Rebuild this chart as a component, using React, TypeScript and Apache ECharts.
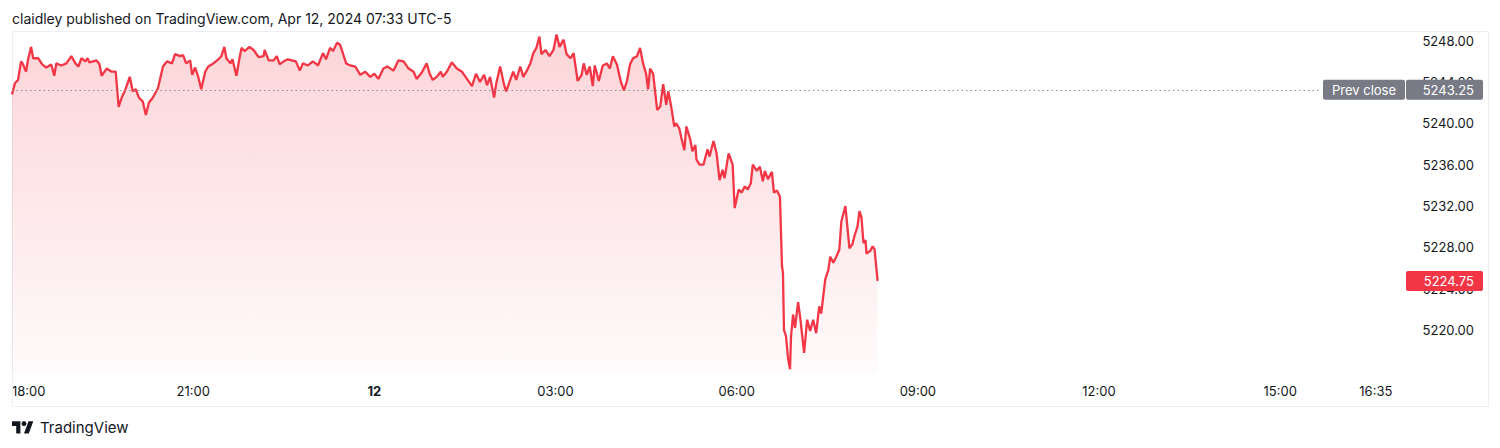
import React, { useEffect, useRef } from "react";
import * as echarts from "echarts";

// minutes after 18:00 (session open)
const minutes = [
  0, 3, 6, 9, 11, 14, 16, 19, 21, 26, 30, 34, 39, 42, 44, 49, 54, 59, 63, 66, 69, 73, 75, 77, 84, 87, 89, 94, 99, 103,
  106, 109, 112, 117, 120, 123, 126, 130, 133, 136, 140, 145, 150, 154, 159, 162, 167, 170, 173, 177, 179, 182, 185, 188,
  192, 195, 200, 205, 208, 211, 213, 217, 219, 223, 226, 228, 231, 236, 240, 245, 250, 251, 255, 260, 263, 266, 270, 274,
  282, 286, 289, 294, 299, 304, 309, 312, 316, 319, 323, 326, 329, 332, 336, 341, 346, 351, 356, 360, 364, 369, 373, 379,
  384, 389, 394, 399, 402, 407, 412, 415, 418, 422, 426, 428, 432, 437, 442, 447, 452, 457, 461, 465, 469, 472, 475, 479,
  481, 485, 489, 491, 495, 498, 501, 505, 508, 511, 515, 518, 521, 524, 526, 530, 534, 538, 541, 544, 548, 551, 555, 558,
  562, 566, 568, 571, 574, 577, 579, 583, 587, 591, 594, 597, 601, 605, 608, 611, 614, 617, 621, 624, 627, 630, 632, 634,
  637, 641, 644, 647, 650, 652, 655, 658, 660, 663, 665, 668, 670, 674, 676, 679, 680, 683, 687, 691, 693, 697, 700, 703,
  706, 708, 712, 716, 718, 722, 725, 728, 731, 734, 736, 740, 743, 746, 748, 751, 755, 757, 760, 763, 765, 766, 767, 769,
  771, 773, 774, 776, 778, 781, 783, 787, 790, 793, 796, 799, 802, 804, 808, 811, 813, 816, 819, 822, 824, 828, 830, 832,
  835, 837, 840, 842, 844, 846, 848, 849, 853, 855, 857, 860,
];

const prices = [
  5242.8, 5243.9, 5244.2, 5246.0, 5245.7, 5245.0, 5246.2, 5247.4, 5246.3, 5246.3, 5245.7, 5245.4, 5245.7, 5244.6, 5245.8,
  5245.6, 5245.8, 5246.5, 5245.8, 5245.5, 5246.3, 5246.0, 5246.3, 5245.9, 5246.1, 5245.7, 5244.6, 5245.3, 5245.0, 5245.0,
  5241.6, 5242.5, 5243.1, 5244.5, 5243.1, 5243.3, 5242.5, 5242.1, 5240.8, 5242.0, 5242.5, 5243.4, 5245.5, 5246.0, 5245.8,
  5246.7, 5246.5, 5246.6, 5245.8, 5246.1, 5244.7, 5245.4, 5244.5, 5243.3, 5245.0, 5245.5, 5245.8, 5246.2, 5246.5, 5247.4,
  5246.3, 5245.8, 5246.2, 5244.6, 5246.3, 5247.3, 5247.0, 5247.4, 5247.1, 5246.4, 5246.5, 5247.1, 5246.1, 5246.1, 5246.5,
  5245.7, 5246.0, 5246.2, 5246.0, 5245.1, 5245.8, 5245.6, 5246.0, 5245.6, 5246.8, 5246.2, 5247.3, 5247.0, 5247.8, 5247.6,
  5246.7, 5245.8, 5245.6, 5245.5, 5244.7, 5245.0, 5244.5, 5244.8, 5244.3, 5245.3, 5245.5, 5245.1, 5246.1, 5246.0, 5245.3,
  5245.0, 5244.3, 5244.9, 5245.8, 5244.8, 5244.2, 5244.5, 5245.0, 5244.5, 5245.0, 5245.9, 5245.3, 5245.0, 5244.3, 5243.6,
  5244.8, 5244.0, 5244.7, 5243.7, 5244.5, 5242.5, 5243.8, 5245.5, 5243.7, 5243.1, 5244.2, 5245.0, 5244.2, 5245.5, 5244.5,
  5245.0, 5245.8, 5246.8, 5247.3, 5248.4, 5246.7, 5247.1, 5246.5, 5247.1, 5248.6, 5247.4, 5248.1, 5246.7, 5246.3, 5246.8,
  5244.1, 5244.7, 5245.8, 5244.7, 5245.5, 5243.6, 5245.6, 5244.1, 5245.6, 5245.8, 5245.3, 5246.5, 5245.7, 5244.0, 5243.2,
  5244.1, 5245.7, 5246.3, 5246.5, 5247.3, 5245.8, 5244.8, 5243.3, 5245.3, 5244.8, 5241.3, 5241.6, 5243.8, 5241.8, 5243.1,
  5241.6, 5239.7, 5240.0, 5239.5, 5238.6, 5237.4, 5239.7, 5238.4, 5237.3, 5237.9, 5236.5, 5236.0, 5236.0, 5237.5, 5236.8,
  5238.3, 5237.1, 5234.5, 5235.5, 5234.7, 5237.1, 5236.0, 5231.8, 5233.6, 5233.3, 5233.9, 5233.6, 5234.2, 5236.0, 5235.4,
  5235.8, 5234.4, 5235.4, 5234.6, 5235.3, 5233.3, 5233.5, 5232.9, 5226.2, 5225.5, 5220.0, 5219.4, 5217.3, 5216.2, 5219.4,
  5221.5, 5220.2, 5222.7, 5221.3, 5217.8, 5221.0, 5219.9, 5221.0, 5219.7, 5222.3, 5221.6, 5224.9, 5225.8, 5227.1, 5226.5,
  5227.1, 5227.8, 5230.5, 5232.0, 5230.0, 5227.9, 5228.3, 5229.1, 5230.0, 5231.5, 5230.9, 5228.4, 5228.7, 5227.4, 5227.7,
  5228.1, 5227.8, 5224.75,
];

const prevClose = 5243.25;
const lastPrice = 5224.75;
const priceTicks = [5220, 5224, 5228, 5232, 5236, 5240, 5244, 5248];
const timeTicks = [0, 180, 360, 540, 720, 900, 1080, 1260, 1355];
const dayLabelMinute = 360;
const dayLabel = "12";
const headerText = "claidley published on TradingView.com, Apr 12, 2024 07:33 UTC-5";
const footerText = "TradingView";

const FONT = "Inter, 'Noto Sans', sans-serif";
const TEXT_COLOR = "#131722";
const RED = "#f23645";
const GRAY = "#787b86";

echarts.graphic.registerShape(
  "tvlogo",
  echarts.graphic.extendPath("M14 22H7V11H0V4h14v18zM28 22h-8l7.5-18h8L28 22z", {})
);

function fmtTime(m: number): string {
  if (m === dayLabelMinute) return "{b|" + dayLabel + "}";
  const total = 18 * 60 + m;
  const h = Math.floor(total / 60) % 24;
  const mm = total % 60;
  return String(h).padStart(2, "0") + ":" + String(mm).padStart(2, "0");
}

export default function App() {
  const ref = useRef<HTMLDivElement>(null);
  useEffect(() => {
    if (!ref.current) return;
    const chart = echarts.init(ref.current, null, { renderer: "svg" });
    const data = minutes.map((m, i) => [m, prices[i]]);
    const gridLeft = 12;
    const gridRight = 95;
    const gridTop = 32;
    const gridBottom = 76;
    chart.setOption({
      animation: false,
      backgroundColor: "#ffffff",
      textStyle: { fontFamily: FONT },
      grid: { left: gridLeft, right: gridRight, top: gridTop, bottom: gridBottom, containLabel: false },
      xAxis: {
        type: "value",
        min: 0,
        max: 1384,
        axisLine: { show: false },
        axisTick: { show: false },
        splitLine: { show: false },
        axisLabel: {
          customValues: timeTicks,
          formatter: (v: number) => fmtTime(v),
          color: TEXT_COLOR,
          fontSize: 13,
          fontFamily: FONT,
          margin: 12,
          alignMinLabel: "left",
          showMinLabel: true,
          showMaxLabel: true,
          hideOverlap: false,
          rich: { b: { fontWeight: "bold", fontSize: 13, color: TEXT_COLOR, fontFamily: FONT } },
        },
      },
      yAxis: {
        type: "value",
        position: "right",
        min: 5215.94,
        max: 5248.84,
        axisLine: { show: false },
        axisTick: { show: false },
        splitLine: { show: false },
        axisLabel: {
          customValues: priceTicks,
          formatter: (v: number) => v.toFixed(2),
          color: TEXT_COLOR,
          fontSize: 13,
          fontFamily: FONT,
          align: "right",
          margin: 69,
          showMinLabel: true,
          showMaxLabel: true,
        },
      },
      series: [
        {
          type: "line",
          data,
          showSymbol: false,
          symbol: "none",
          lineStyle: { color: RED, width: 2.3 },
          areaStyle: {
            color: new echarts.graphic.LinearGradient(0, 0, 0, 1, [
              { offset: 0, color: "rgba(242,54,69,0.3)" },
              { offset: 1, color: "rgba(242,54,69,0.03)" },
            ]),
          },
          markLine: {
            silent: true,
            symbol: ["none", "none"],
            label: { show: false },
            lineStyle: { type: [1.5, 3], color: "#8a8d96", width: 1 },
            data: [[{ coord: [0, prevClose] }, { coord: [1299, prevClose] }]],
          },
        },
      ],
    });

    const pyPrev = chart.convertToPixel({ yAxisIndex: 0 }, prevClose) as number;
    const pyLast = chart.convertToPixel({ yAxisIndex: 0 }, lastPrice) as number;
    const plotRight = 1500 - gridRight;
    const boxH = 20;

    chart.setOption({
      graphic: [
        {
          type: "rect",
          z: 1,
          silent: true,
          shape: { x: 12.5, y: 31.5, width: 1476, height: 375 },
          style: { fill: "none", stroke: "#eceef2", lineWidth: 1 },
        },
        {
          type: "text",
          z: 100,
          x: 12,
          y: 18,
          style: { text: headerText, font: "14px " + FONT, fill: TEXT_COLOR, textAlign: "left", textVerticalAlign: "middle" },
        },
        {
          type: "tvlogo",
          z: 100,
          x: 12,
          y: 418.5,
          scaleX: 0.6,
          scaleY: 0.68,
          style: { fill: TEXT_COLOR },
        },
        {
          type: "circle",
          z: 100,
          shape: { cx: 12 + 20 * 0.6, cy: 418.5 + 7.5 * 0.68, r: 2.5 },
          style: { fill: TEXT_COLOR },
        },
        {
          type: "text",
          z: 100,
          x: 40,
          y: 427,
          style: { text: footerText, font: "15px " + FONT, fill: TEXT_COLOR, textAlign: "left", textVerticalAlign: "middle" },
        },
        {
          type: "rect",
          z: 100,
          shape: { x: plotRight - 82, y: pyPrev - boxH / 2, width: 82, height: boxH, r: 2 },
          style: { fill: GRAY },
        },
        {
          type: "text",
          z: 101,
          x: plotRight - 41,
          y: pyPrev,
          style: { text: "Prev close", font: "13px " + FONT, fill: "#ffffff", textAlign: "center", textVerticalAlign: "middle" },
        },
        {
          type: "rect",
          z: 100,
          shape: { x: plotRight + 1, y: pyPrev - boxH / 2, width: 77, height: boxH, r: 2 },
          style: { fill: GRAY },
        },
        {
          type: "text",
          z: 101,
          x: 1474,
          y: pyPrev,
          style: { text: prevClose.toFixed(2), font: "13px " + FONT, fill: "#ffffff", textAlign: "right", textVerticalAlign: "middle" },
        },
        {
          type: "rect",
          z: 100,
          shape: { x: plotRight + 1, y: pyLast - boxH / 2, width: 77, height: boxH, r: 2 },
          style: { fill: RED },
        },
        {
          type: "text",
          z: 101,
          x: 1474,
          y: pyLast,
          style: { text: lastPrice.toFixed(2), font: "13px " + FONT, fill: "#ffffff", textAlign: "right", textVerticalAlign: "middle" },
        },
      ],
    });

    return () => chart.dispose();
  }, []);

  return (
    <div
      ref={ref}
      style={{ position: "fixed", left: 0, top: 0, width: 1500, height: 448, background: "#ffffff" }}
    />
  );
}
